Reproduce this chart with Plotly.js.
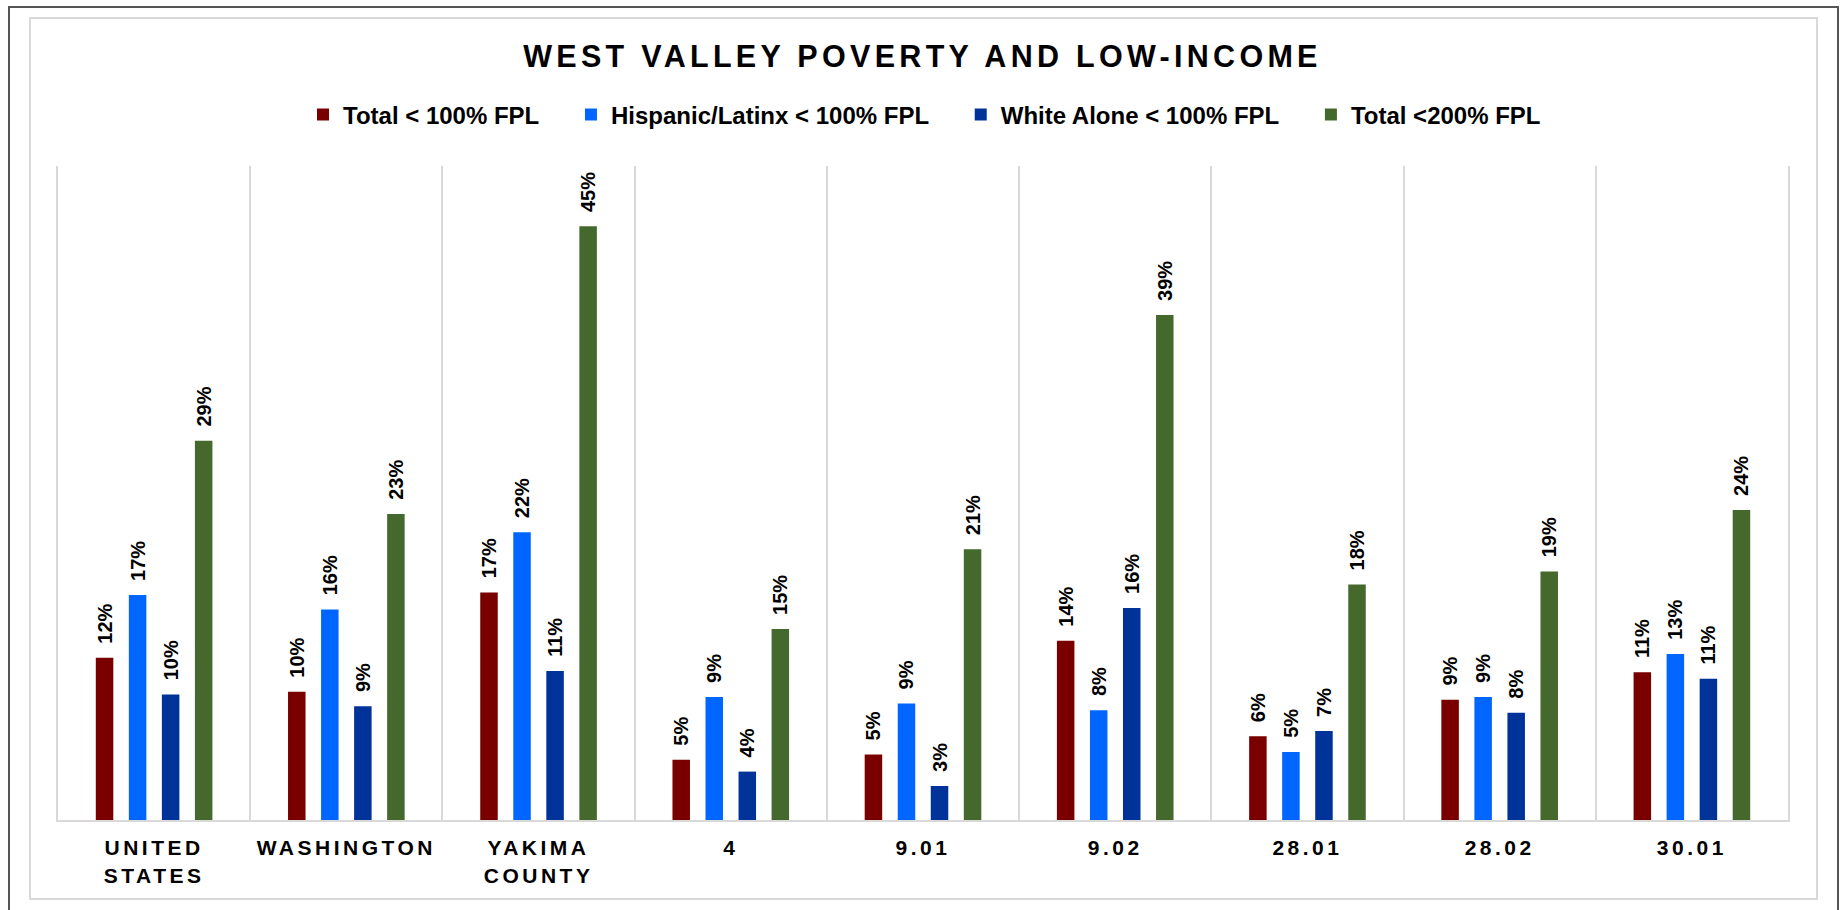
<!DOCTYPE html>
<html>
<head>
<meta charset="utf-8">
<script src="https://cdn.plot.ly/plotly-3.0.1.min.js"></script>
<style>
  html, body { margin: 0; padding: 0; background: #fff; }
  #outer { position: absolute; left: 8px; top: 6px; width: 1831px; height: 930px; border: 2px solid #555; box-sizing: border-box; }
  #inner { position: absolute; left: 29px; top: 17px; width: 1789px; height: 883px; border: 2px solid #d9d9d9; box-sizing: border-box; }
  #chart { position: absolute; left: 0; top: 0; width: 1845px; height: 910px; }
  .gtitle { letter-spacing: 4.3px; }
  .xtick text { letter-spacing: 3.5px; }
</style>
</head>
<body>
<div id="outer"></div>
<div id="inner"></div>
<div id="chart"></div>
<script>
var areas = ['UNITED<br>STATES', 'WASHINGTON', 'YAKIMA<br>COUNTY', '4', '9.01', '9.02', '28.01', '28.02', '30.01'];
var seriesNames = ['Total < 100% FPL', 'Hispanic/Latinx < 100% FPL', 'White Alone < 100% FPL', 'Total <200% FPL'];
var totalPoverty    = [12.4, 9.8, 17.4, 4.6, 5.0, 13.7, 6.4, 9.2, 11.3];
var hispanicPoverty = [17.2, 16.1, 22.0, 9.4, 8.9, 8.4, 5.2, 9.4, 12.7];
var whitePoverty    = [9.6, 8.7, 11.4, 3.7, 2.6, 16.2, 6.8, 8.2, 10.8];
var total200        = [29.0, 23.4, 45.4, 14.6, 20.7, 38.6, 18.0, 19.0, 23.7];
var colors = ['#7a0000', '#0066ff', '#003399', '#45692d'];

var font = 'Liberation Sans, Arial, sans-serif';
var values = [totalPoverty, hispanicPoverty, whitePoverty, total200];

var data = values.map(function(v, i){
  return {
    type: 'bar',
    name: seriesNames[i] + '\u00A0\u00A0\u00A0\u00A0',
    x: areas,
    y: v,
    marker: { color: colors[i], line: { width: 0 } },
    texttemplate: '\u00A0\u00A0%{y:.0f}%',
    textposition: 'outside',
    textangle: -90,
    constraintext: 'none',
    cliponaxis: false,
    textfont: { family: font, size: 20, weight: 700, color: '#000' },
    hoverinfo: 'none'
  };
});

var layout = {
  width: 1845,
  height: 910,
  margin: { l: 58, r: 57, t: 166, b: 90 },
  paper_bgcolor: 'rgba(0,0,0,0)',
  plot_bgcolor: 'rgba(0,0,0,0)',
  barmode: 'group',
  bargap: 0.3125,
  bargroupgap: 0.47,
  title: {
    text: 'WEST VALLEY POVERTY AND LOW-INCOME',
    font: { family: font, size: 30.5, weight: 700, color: '#000' },
    x: 0.5, xref: 'container', xanchor: 'center',
    y: 1 - 56 / 910, yref: 'container', yanchor: 'middle'
  },
  showlegend: true,
  legend: {
    orientation: 'h',
    x: 0.5 + 15 / 1730, xanchor: 'center',
    y: 1 + 51 / 654, yanchor: 'middle',
    font: { family: font, size: 24, weight: 700, color: '#000' },
    traceorder: 'normal'
  },
  xaxis: {
    type: 'category',
    range: [-0.5, 8.5],
    tickson: 'boundaries',
    ticks: '',
    showgrid: true,
    gridcolor: '#d9d9d9',
    gridwidth: 2,
    showline: true,
    linecolor: '#d9d9d9',
    linewidth: 2,
    ticklabelstandoff: 8,
    tickfont: { family: font, size: 21, weight: 700, color: '#000' },
    fixedrange: true
  },
  yaxis: {
    range: [0, 50],
    showticklabels: false,
    showgrid: false,
    zeroline: false,
    showline: true,
    mirror: true,
    linecolor: '#d9d9d9',
    linewidth: 2,
    ticks: '',
    fixedrange: true
  }
};

Plotly.newPlot('chart', data, layout, { staticPlot: true, displayModeBar: false });
</script>
</body>
</html>
